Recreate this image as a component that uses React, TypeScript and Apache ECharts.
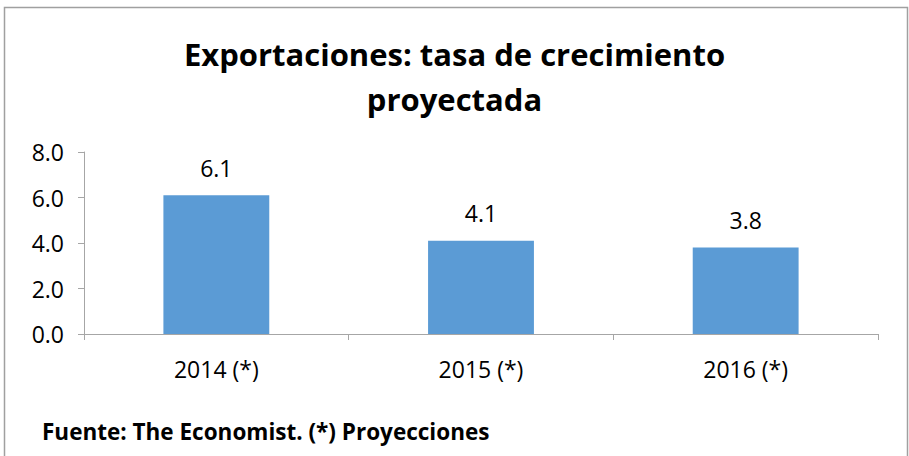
import React, { useEffect, useRef } from "react";
import * as echarts from "echarts";

const categories = ["2014 (*)", "2015 (*)", "2016 (*)"];
const values = [6.1, 4.1, 3.8];
const titleText = "Exportaciones: tasa de crecimiento\nproyectada";
const footerText = "Fuente: The Economist. (*) Proyecciones";

export default function App() {
  const ref = useRef<HTMLDivElement>(null);
  useEffect(() => {
    document.body.style.margin = "0";
    const chart = echarts.init(ref.current!, null, { renderer: "svg" });
    const font = "'Open Sans', sans-serif";
    chart.setOption({
      animation: false,
      backgroundColor: "#ffffff",
      title: {
        text: titleText,
        left: "center",
        top: 26,
        textStyle: {
          fontFamily: font,
          fontSize: 31,
          fontWeight: "bold",
          color: "#000000",
          lineHeight: 45,
        },
      },
      grid: { left: 84, right: 31, top: 152, bottom: 122 },
      xAxis: {
        type: "category",
        data: categories,
        axisLine: { lineStyle: { color: "#a6a6a6", width: 1 } },
        axisTick: { show: true, length: 6, lineStyle: { color: "#a6a6a6" } },
        axisLabel: {
          fontFamily: font,
          fontSize: 23,
          color: "#000000",
          margin: 23,
        },
      },
      yAxis: {
        type: "value",
        min: 0,
        max: 8,
        interval: 2,
        axisLine: { show: true, lineStyle: { color: "#a6a6a6", width: 1 } },
        axisTick: { show: true, length: 6, lineStyle: { color: "#a6a6a6" } },
        splitLine: { show: false },
        axisLabel: {
          fontFamily: font,
          fontSize: 23,
          color: "#000000",
          margin: 20,
          formatter: (v: number) => v.toFixed(1),
        },
      },
      series: [
        {
          type: "bar",
          data: values,
          barWidth: "40%",
          itemStyle: { color: "#5b9bd5" },
          label: {
            show: true,
            position: "top",
            distance: 16,
            fontFamily: font,
            fontSize: 23,
            color: "#000000",
            formatter: (p: any) => Number(p.value).toFixed(1),
          },
        },
      ],
      graphic: [
        {
          type: "rect",
          shape: { x: 4.5, y: 7.5, width: 903, height: 460 },
          style: { fill: "none", stroke: "#a0a0a0", lineWidth: 1.5 },
          silent: true,
        },
        {
          type: "text",
          left: 42,
          top: 420,
          style: {
            text: footerText,
            fontFamily: font,
            fontSize: 22.5,
            fontWeight: "bold",
            fill: "#000000",
          },
        },
      ],
    });
    return () => chart.dispose();
  }, []);
  return <div ref={ref} style={{ width: 909, height: 456 }} />;
}
